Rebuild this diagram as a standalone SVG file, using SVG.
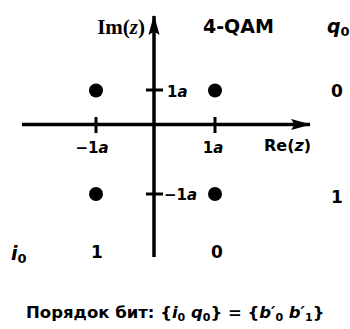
<svg xmlns="http://www.w3.org/2000/svg" width="350" height="329" viewBox="0 0 350 329">
<style>
.t{font-family:"DejaVu Sans","Liberation Sans",sans-serif;font-weight:bold;fill:#000}
.ax{stroke:#000;stroke-width:3.5;fill:none}
.tk{stroke:#000;stroke-width:3;fill:none}
.dot{fill:#000}
</style>
<defs>
<marker id="ah" markerUnits="userSpaceOnUse" markerWidth="20" markerHeight="12" refX="17" refY="5" orient="auto" viewBox="0 0 18 10">
<path d="M0,0 L18,5 L0,10 L3,5 Z" fill="#000"/>
</marker>
</defs>
<rect width="350" height="329" fill="#fff"/>
<g id="connectors">
<line class="ax" x1="154" y1="257" x2="154" y2="16" marker-end="url(#ah)"/>
<line class="ax" x1="22" y1="124.5" x2="310" y2="124.5" marker-end="url(#ah)"/>
<line class="tk" x1="96" y1="117" x2="96" y2="133"/>
<line class="tk" x1="215" y1="117" x2="215" y2="133"/>
<line class="tk" x1="146" y1="90" x2="163" y2="90"/>
<line class="tk" x1="146" y1="194" x2="163" y2="194"/>
</g>
<g id="axis-labels">
<text x="145" y="34" text-anchor="end" style="font-family:'Liberation Serif',serif;font-weight:bold;font-size:21px">Im(<tspan font-style="italic">z</tspan>)</text>
<text class="t" x="264" y="151" font-size="16">Re(<tspan font-style="italic">z</tspan>)</text>
<text class="t" x="203" y="33" font-size="19">4-QAM</text>
<text class="t" x="327" y="33" font-size="19"><tspan font-style="italic">q</tspan><tspan font-size="13" dy="3">0</tspan></text>
<text class="t" x="11" y="260" font-size="19"><tspan font-style="italic">i</tspan><tspan font-size="13" dy="3">0</tspan></text>
<text class="t" x="167" y="97" font-size="15">1<tspan font-style="italic">a</tspan></text>
<text class="t" x="164" y="200" font-size="15">−1<tspan font-style="italic">a</tspan></text>
<text class="t" x="92" y="153" font-size="15" text-anchor="middle">−1<tspan font-style="italic">a</tspan></text>
<text class="t" x="213" y="153" font-size="15" text-anchor="middle">1<tspan font-style="italic">a</tspan></text>
</g>
<g id="point-00"><circle class="dot" cx="215" cy="90.5" r="7"/></g>
<g id="point-10"><circle class="dot" cx="96" cy="90.5" r="7"/></g>
<g id="point-11"><circle class="dot" cx="96" cy="194" r="7"/></g>
<g id="point-01"><circle class="dot" cx="215" cy="194" r="7"/></g>
<g id="bit-labels">
<text class="t" x="337" y="97" font-size="17" text-anchor="middle">0</text>
<text class="t" x="337" y="203" font-size="17" text-anchor="middle">1</text>
<text class="t" x="97" y="258" font-size="17" text-anchor="middle">1</text>
<text class="t" x="217" y="258" font-size="17" text-anchor="middle">0</text>
</g>
<g id="caption">
<text class="t" x="26" y="318" font-size="16.5">Порядок бит: {<tspan font-style="italic">i</tspan><tspan font-size="11" dy="3">0</tspan><tspan dy="-3"> </tspan><tspan font-style="italic">q</tspan><tspan font-size="11" dy="3">0</tspan><tspan dy="-3">} = {</tspan><tspan font-style="italic">b′</tspan><tspan font-size="11" dy="3">0</tspan><tspan dy="-3"> </tspan><tspan font-style="italic">b′</tspan><tspan font-size="11" dy="3">1</tspan><tspan dy="-3">}</tspan></text>
</g>
</svg>
